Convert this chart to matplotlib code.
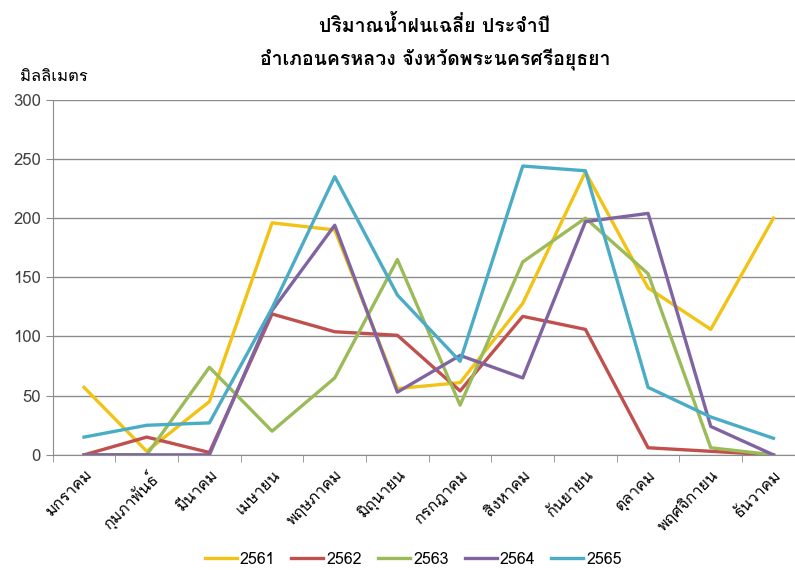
import matplotlib
matplotlib.use("Agg")
import matplotlib.pyplot as plt
from matplotlib import font_manager
from matplotlib.ft2font import FT2Font
import numpy as np

# find an installed font with Thai glyphs, fall back to DejaVu
thai_font = None
for f in font_manager.fontManager.ttflist:
    try:
        if 0x0E1B in FT2Font(f.fname).get_charmap():
            thai_font = f.name
            break
    except Exception:
        pass
families = [thai_font, "DejaVu Sans"] if thai_font else ["DejaVu Sans"]
plt.rcParams["font.family"] = families

months = ["มกราคม", "กุมภาพันธ์", "มีนาคม", "เมษายน", "พฤษภาคม", "มิถุนายน",
          "กรกฎาคม", "สิงหาคม", "กันยายน", "ตุลาคม", "พฤศจิกายน", "ธันวาคม"]
years = ["2561", "2562", "2563", "2564", "2565"]
y2561 = [57, 3, 45, 196, 190, 56, 61, 128, 239, 141, 106, 200]
y2562 = [0, 15, 2, 119, 104, 101, 54, 117, 106, 6, 3, 0]
y2563 = [0, 0, 74, 20, 65, 165, 42, 163, 200, 153, 6, 0]
y2564 = [0, 0, 0, 122, 194, 53, 84, 65, 197, 204, 24, 0]
y2565 = [15, 25, 27, 124, 235, 135, 79, 244, 240, 57, 32, 14]
colors = ["#F2C314", "#C0504D", "#9BBB59", "#8064A2", "#4BACC6"]

fig = plt.figure(figsize=(7.95, 5.70), dpi=100)
# plot area runs slightly past the right edge, like the original
ax = fig.add_axes([0.0663, 0.202, 0.946, 0.623])

x = np.arange(len(months))
for vals, name, c in zip([y2561, y2562, y2563, y2564, y2565], years, colors):
    ax.plot(x, vals, color=c, lw=2.4, label=name)

ax.set_xlim(-0.5, 11.5)
ax.set_ylim(0, 300)
ax.set_yticks(range(0, 301, 50))
ax.yaxis.grid(True, color="#8c8c8c", lw=1)
ax.set_axisbelow(True)
for s in ["top", "right"]:
    ax.spines[s].set_visible(False)
for s in ["left", "bottom"]:
    ax.spines[s].set_color("#8c8c8c")

ax.set_xticks(x)
ax.set_xticklabels(months, rotation=45, ha="right", rotation_mode="anchor", fontsize=11.5)
ax.tick_params(axis="x", length=0, pad=9)
ax.set_xticks(np.arange(-0.5, 12, 1), minor=True)
ax.tick_params(axis="x", which="minor", length=5, color="#8c8c8c")
ax.tick_params(axis="y", length=5, color="#8c8c8c", labelsize=12, labelcolor="#404040")

fig.text(0.547, 0.955, "ปริมาณน้ำฝนเฉลี่ย ประจำปี", ha="center", va="center",
         fontsize=14, fontweight="bold")
fig.text(0.547, 0.895, "อำเภอนครหลวง จังหวัดพระนครศรีอยุธยา", ha="center", va="center",
         fontsize=14, fontweight="bold")
fig.text(0.025, 0.865, "มิลลิเมตร", ha="left", va="center", fontsize=12)

fig.legend(loc="center", bbox_to_anchor=(0.52, 0.018), ncol=5, frameon=False,
           fontsize=11.5, handlelength=2.0, columnspacing=1.0, handletextpad=0.2)

fig.savefig("out.png", dpi=100)
